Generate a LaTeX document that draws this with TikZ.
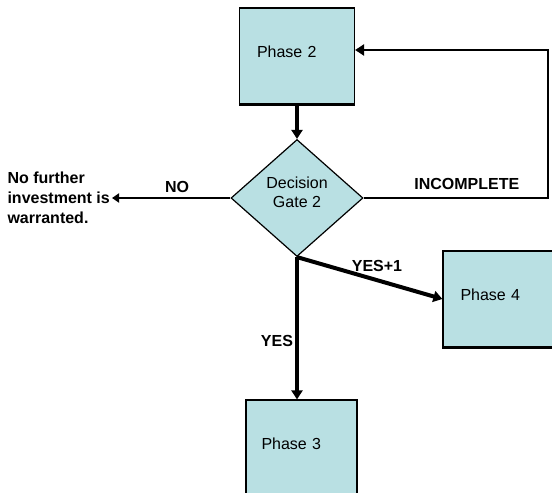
\documentclass[tikz,border=0pt]{standalone}
\usepackage{fontspec}
\setmainfont{Liberation Sans}
\usetikzlibrary{shapes.geometric,arrows.meta}
\definecolor{phasefill}{RGB}{185,224,227}
\begin{document}
\begin{tikzpicture}[x=1pt,y=-1pt,
  phase/.style={shape=rectangle,draw=black,line width=1.2pt,fill=phasefill,minimum width=115pt,minimum height=96pt,text width=80pt,align=left,text depth=9pt,font=\fontsize{16}{19}\selectfont},
  gate/.style={shape=diamond,draw=black,line width=1.2pt,fill=phasefill,minimum width=132pt,minimum height=117pt,inner sep=0pt,align=center,text depth=12pt,font=\fontsize{16}{19}\selectfont},
  lab/.style={font=\fontsize{16}{20}\selectfont\bfseries,inner sep=2pt},
  link/.style={line width=4pt,-{Triangle[length=9pt,width=11pt]}}]
\useasboundingbox (0,0) rectangle (552,493);

\node[phase] (p2) at (297,56){Phase 2};
\node[gate] (dg) at (297,198){Decision\\Gate 2};
\node[phase] (p4) at (500.5,299){Phase 4};
\node[phase,minimum width=111pt] (p3) at (301.5,448){Phase 3};
\node[lab,align=left,anchor=east] (stop) at (112,198){No further\\investment is\\warranted.};
\coordinate (back) at (548,50);

\draw[line width=3.5pt] (p2.south west) -- (p2.south east);
\draw[line width=3pt] (p4.south west) -- (p4.south east);

\path [link] (p2.south) edge (dg.north);
\path [line width=2pt,-{Triangle[length=7pt,width=9pt]}] (dg.west) edge node[lab,above=2pt,pos=.45] {NO} (stop.east);
\draw [line width=2.5pt,-{Triangle[length=9pt,width=11pt]}] (dg.east) -| node[lab,above=5pt,pos=.28] {INCOMPLETE} (back) -- (back -| p2.east);
\path [link] (dg.south) edge node[lab,above=4pt,pos=.55] {YES+1} (p4.west);
\path [link] (dg.south) edge node[lab,left,pos=.59] {YES} (dg.south |- p3.north);
\end{tikzpicture}
\end{document}
